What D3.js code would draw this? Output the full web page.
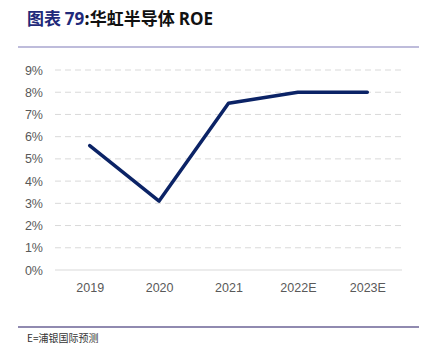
<!DOCTYPE html>
<html>
<head>
<meta charset="utf-8">
<script src="https://cdn.jsdelivr.net/npm/d3@7"></script>
<style>
  body { margin: 0; background: #fff; }
  svg { display: block; font-family: "Open Sans", "Noto Sans CJK SC", sans-serif; }
</style>
</head>
<body>
<div id="chart"></div>
<script>
const years = ["2019", "2020", "2021", "2022E", "2023E"];
const roe = [5.6, 3.1, 7.5, 8.0, 8.0];
const yTicks = [0, 1, 2, 3, 4, 5, 6, 7, 8, 9];

const width = 426, height = 350;
const svg = d3.select("#chart").append("svg")
    .attr("width", width)
    .attr("height", height);

// titulo
const title = svg.append("text")
    .attr("x", 27).attr("y", 25)
    .style("font-size", "17px")
    .style("font-weight", "bold");
title.append("tspan").attr("fill", "#1f2a7a")
    .style("font-family", "'Noto Sans CJK SC', sans-serif").text("图表 ");
title.append("tspan").attr("fill", "#1f2a7a").text("79");
title.append("tspan").attr("fill", "#111")
    .style("font-family", "'Noto Sans CJK SC', sans-serif").text(":华虹半导体 ");
title.append("tspan").attr("fill", "#111").text("ROE");

svg.append("line")
    .attr("x1", 18).attr("x2", 419).attr("y1", 47).attr("y2", 47)
    .attr("stroke", "#a9a6cf").attr("stroke-width", 1.5);

svg.append("line")
    .attr("x1", 18).attr("x2", 419).attr("y1", 327).attr("y2", 327)
    .attr("stroke", "#6b6396").attr("stroke-width", 1.5);

svg.append("text")
    .attr("x", 27).attr("y", 342)
    .attr("fill", "#333")
    .style("font-size", "10px")
    .style("font-family", "'Noto Sans CJK SC', sans-serif")
    .text("E=浦银国际预测");

const x = d3.scalePoint()
    .domain(years)
    .range([55, 402])
    .padding(0.5);

const y = d3.scaleLinear()
    .domain([0, 9])
    .range([270, 70]);

// grid
svg.append("g").selectAll("line")
    .data(yTicks.filter(t => t > 0))
    .enter().append("line")
    .attr("x1", 55).attr("x2", 402)
    .attr("y1", d => y(d)).attr("y2", d => y(d))
    .attr("stroke", "#d9d9d9")
    .attr("stroke-dasharray", "6,4");

svg.append("line")
    .attr("x1", 55).attr("x2", 402)
    .attr("y1", y(0)).attr("y2", y(0))
    .attr("stroke", "#d9d9d9");

const yAxis = svg.append("g")
    .attr("transform", "translate(55,0)")
    .call(d3.axisLeft(y).tickValues(yTicks).tickFormat(d => d + "%").tickSize(0).tickPadding(12));
yAxis.select(".domain").remove();
yAxis.selectAll("text").attr("fill", "#595959").style("font-size", "12.5px");

const xAxis = svg.append("g")
    .attr("transform", `translate(0,${y(0)})`)
    .call(d3.axisBottom(x).tickSize(0).tickPadding(13));
xAxis.select(".domain").remove();
xAxis.selectAll("text").attr("fill", "#595959").style("font-size", "12.5px");

const line = d3.line()
    .x((d, i) => x(years[i]))
    .y(d => y(d));

svg.append("path")
    .datum(roe)
    .attr("d", line)
    .attr("fill", "none")
    .attr("stroke", "#0b2366")
    .attr("stroke-width", 3.5)
    .attr("stroke-linecap", "round")
    .attr("stroke-linejoin", "round");
</script>
</body>
</html>
